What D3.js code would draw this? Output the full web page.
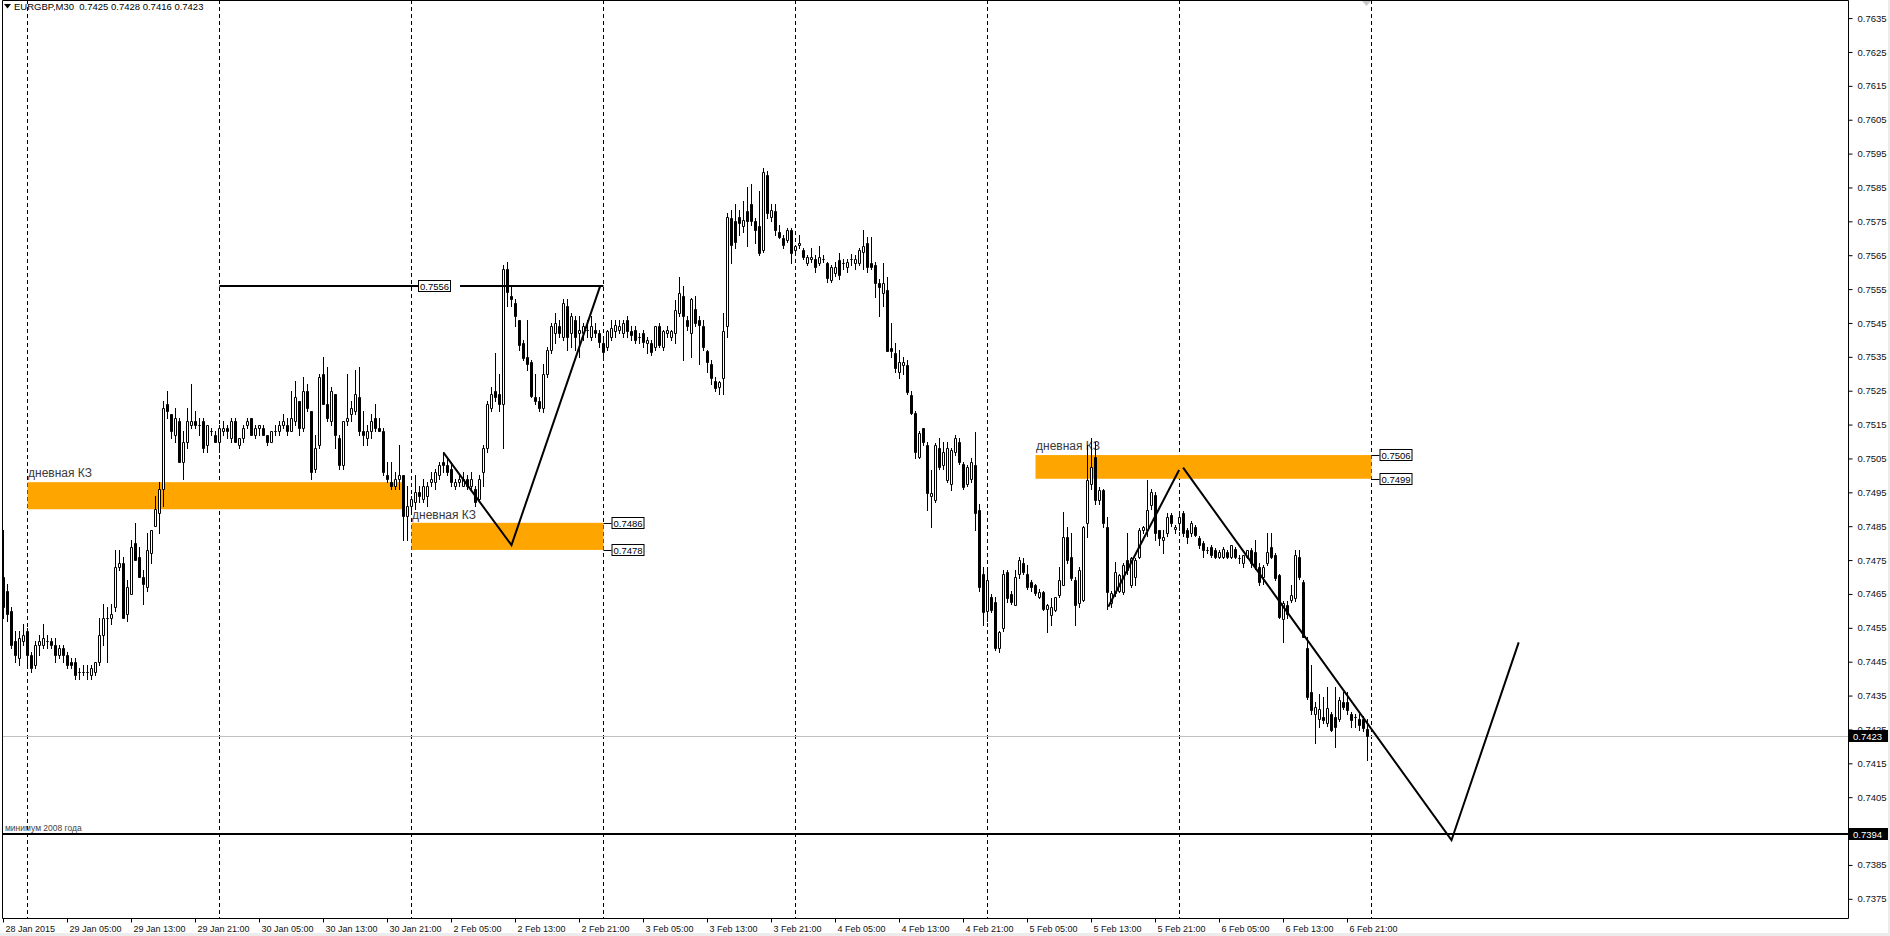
<!DOCTYPE html>
<html><head><meta charset="utf-8">
<script src="https://cdn.jsdelivr.net/npm/d3@7"></script>
<style>
html,body{margin:0;padding:0;background:#fff;}
svg{display:block;}
</style></head><body>
<svg id="chart" width="1890" height="936"></svg>
<script>
// ---------- DATA ----------
const symbolTitle = "EURGBP,M30  0.7425 0.7428 0.7416 0.7423";
const timeLabels = ["28 Jan 2015","29 Jan 05:00","29 Jan 13:00","29 Jan 21:00","30 Jan 05:00","30 Jan 13:00","30 Jan 21:00","2 Feb 05:00","2 Feb 13:00","2 Feb 21:00","3 Feb 05:00","3 Feb 13:00","3 Feb 21:00","4 Feb 05:00","4 Feb 13:00","4 Feb 21:00","5 Feb 05:00","5 Feb 13:00","5 Feb 21:00","6 Feb 05:00","6 Feb 13:00","6 Feb 21:00"];
const timeTickBars = [0,16,32,48,64,80,96,112,128,144,160,176,192,208,224,240,256,272,288,304,320,336];
const separatorBars = [6,54,102,150,198,246,294,342];
const priceTicks = [0.7375,0.7385,0.7395,0.7405,0.7415,0.7425,0.7435,0.7445,0.7455,0.7465,0.7475,0.7485,0.7495,0.7505,0.7515,0.7525,0.7535,0.7545,0.7555,0.7565,0.7575,0.7585,0.7595,0.7605,0.7615,0.7625,0.7635];
const hiddenTickLabels = [0.7395]; // covered by the 0.7394 price box

// M30 candles [open, high, low, close] in pips (price x 10000)
const jan28 = [[7470,7484,7458,7461],[7466,7468,7457,7459],[7460,7461,7449,7450],[7451,7454,7445,7447],[7446,7454,7444,7452],[7451,7456,7450,7453]];
const jan29 = [[7454,7455,7444,7447],[7447,7448,7442,7443],[7444,7451,7443,7450],[7450,7453,7447,7451],[7450,7456,7449,7452],[7451,7453,7449,7451],[7451,7452,7449,7450],[7450,7452,7445,7447],[7447,7450,7446,7449],[7449,7450,7445,7447],[7447,7448,7443,7444],[7445,7446,7443,7444],[7445,7446,7440,7441],[7442,7443,7440,7442],[7442,7444,7441,7442],[7442,7444,7440,7442],[7441,7444,7440,7443],[7442,7445,7441,7445],[7445,7458,7444,7453],[7453,7462,7450,7458],[7458,7461,7445,7458],[7458,7462,7456,7459],[7461,7478,7460,7473],[7473,7478,7472,7474],[7474,7476,7458,7458],[7459,7469,7457,7467],[7465,7481,7465,7479],[7480,7486,7475,7475],[7476,7479,7470,7470],[7470,7472,7462,7468],[7467,7483,7466,7478],[7477,7484,7474,7484],[7485,7494,7485,7490],[7489,7498,7483,7496],[7496,7522,7491,7520],[7521,7525,7517,7519],[7518,7518,7511,7513],[7512,7520,7510,7517],[7516,7517,7504,7504],[7504,7513,7499,7510],[7510,7520,7508,7516],[7515,7527,7514,7516],[7516,7519,7514,7515],[7515,7517,7512,7515],[7516,7517,7507,7508],[7509,7515,7507,7515],[7513,7514,7512,7513],[7512,7513,7510,7510]];
const jan30 = [[7510,7515,7507,7514],[7513,7516,7512,7514],[7514,7515,7511,7513],[7511,7517,7510,7516],[7516,7517,7510,7510],[7509,7511,7508,7511],[7511,7515,7510,7514],[7515,7517,7514,7516],[7517,7517,7512,7512],[7512,7515,7511,7514],[7514,7515,7512,7515],[7514,7515,7512,7512],[7512,7512,7509,7510],[7510,7513,7510,7513],[7513,7515,7512,7513],[7513,7516,7512,7515],[7515,7518,7514,7516],[7515,7517,7512,7513],[7513,7525,7513,7517],[7516,7528,7515,7523],[7522,7522,7512,7514],[7514,7529,7513,7525],[7525,7527,7519,7520],[7519,7519,7499,7501],[7502,7512,7501,7508],[7509,7530,7508,7529],[7530,7535,7521,7521],[7521,7532,7516,7517],[7516,7526,7515,7525],[7524,7524,7508,7512],[7511,7512,7502,7503],[7503,7516,7502,7516],[7516,7530,7515,7517],[7518,7522,7516,7520],[7519,7531,7518,7524],[7523,7532,7512,7513],[7513,7519,7509,7512],[7511,7515,7509,7513],[7513,7518,7511,7516],[7517,7521,7513,7514],[7514,7517,7513,7513],[7513,7514,7500,7501],[7500,7504,7498,7499],[7498,7504,7496,7497],[7497,7501,7496,7499],[7499,7509,7496,7500],[7500,7500,7481,7488],[7488,7497,7481,7491]];
const feb2 = [[7491,7494,7489,7493],[7492,7500,7490,7495],[7495,7497,7492,7494],[7493,7499,7492,7497],[7494,7498,7491,7497],[7498,7501,7497,7499],[7498,7502,7496,7501],[7500,7504,7499,7503],[7504,7507,7501,7503],[7503,7505,7500,7501],[7502,7504,7497,7498],[7497,7499,7496,7498],[7498,7500,7497,7499],[7497,7501,7497,7499],[7499,7500,7496,7497],[7497,7501,7496,7499],[7496,7497,7491,7492],[7493,7500,7492,7499],[7501,7509,7497,7508],[7508,7522,7507,7521],[7520,7526,7519,7524],[7525,7536,7522,7523],[7524,7530,7519,7521],[7521,7562,7508,7561],[7561,7563,7550,7554],[7553,7556,7550,7552],[7551,7552,7544,7547],[7546,7546,7537,7538.5],[7539,7540,7534,7534.6],[7535,7546,7531,7533],[7533.6,7534,7523,7523.3],[7523,7530,7521,7522],[7522,7523,7519,7520],[7519.8,7533,7518.8,7530],[7530,7538,7529,7537],[7537,7545,7536,7544],[7542,7548,7539,7545],[7544,7546,7541,7542],[7541,7552,7540,7551],[7550,7552,7537,7541],[7542,7548,7538,7547],[7546,7547,7537,7541],[7542,7547,7535,7543],[7542,7545,7540,7544],[7543,7546,7541,7543],[7541,7547,7540,7544],[7543,7545,7541,7542],[7542,7543,7538,7539.5]];
const feb3 = [[7539,7540,7535,7536.5],[7538,7543,7537,7542.5],[7541,7546,7540,7543.5],[7542.5,7546,7541,7544.4],[7543,7546,7542,7544],[7542,7546,7541,7545],[7546,7547,7541,7542.5],[7542.5,7544,7540,7541.5],[7543,7544,7539,7540],[7541,7542,7539,7541],[7542,7543,7538,7539.5],[7539,7541,7536,7540],[7539,7540,7535.5,7536.5],[7538,7544,7537,7544],[7544,7545,7538,7538.5],[7538,7543,7537,7542.5],[7542,7544,7541,7542.9],[7541,7543,7540,7542.5],[7542,7551.8,7539,7548.8],[7548,7558.7,7547,7553.8],[7553,7556,7534,7547],[7546,7547,7543,7544],[7542,7552.3,7535,7552],[7549,7553,7544,7545],[7546,7547,7533,7544.4],[7544,7546,7537,7538],[7536.6,7537,7530.6,7533.6],[7533,7534,7527,7528.7],[7528,7529,7525,7525.7],[7526,7528,7524,7527.5],[7528.7,7547.9,7524,7542.5],[7544,7577.4,7541,7576.4],[7576,7578.4,7562.6,7568],[7575,7580,7567,7569],[7576.4,7578.4,7571,7574.5],[7573.5,7581,7572,7575.4],[7578,7585,7567.6,7575],[7580,7586,7574,7575],[7575,7576,7568.6,7572.5],[7573.5,7584,7565,7565.6],[7566.6,7590.7,7566,7589.7],[7588.7,7590,7576,7577.4],[7576.4,7580,7575,7578.4],[7578,7580,7571,7572.5],[7572,7574,7570,7570.5],[7570,7571,7567,7568],[7569.5,7573,7569,7572.5],[7572.5,7573,7562.6,7565.6]];
const feb4 = [[7566.6,7568,7565,7567.6],[7568,7571,7567,7568.6],[7566.6,7567,7564,7564.6],[7562.6,7565,7562,7564.6],[7564,7567,7563,7564.6],[7564,7565,7560,7561.6],[7562.6,7567.6,7562,7564.6],[7564,7565,7563,7564],[7562.6,7563,7557,7558.2],[7557.7,7562,7557,7561.6],[7559.7,7563,7559,7561.6],[7563.6,7565.6,7558,7559.2],[7562.6,7564,7561,7562.6],[7561.6,7564,7560,7563.1],[7564,7565.5,7562,7564],[7562.6,7565,7561,7564],[7562.6,7567,7562,7566.6],[7566,7572.5,7561,7567.6],[7568.6,7570.5,7560,7561.6],[7562.6,7570.5,7561,7561.6],[7562,7563,7552.8,7556.7],[7556.7,7558,7547,7555.7],[7553.8,7562.6,7550,7556.7],[7554.8,7558.7,7536.6,7536.6],[7537.6,7545,7535,7536.6],[7536,7539,7530.6,7531.6],[7530.6,7537,7528.7,7533.6],[7532.6,7535,7530,7533.6],[7532.6,7534,7524,7524.7],[7523.7,7525,7518,7518.5],[7518.3,7519,7505,7507],[7505.5,7513,7505,7512.4],[7513.9,7514,7509,7509.9],[7509,7510,7489.8,7494.7],[7493.8,7501.6,7484.8,7494.7],[7492.7,7509.5,7492,7509],[7508,7510.9,7502,7502.5],[7503,7510,7502,7507],[7498.6,7510,7498,7508],[7497.6,7508,7495.7,7507.5],[7507,7512,7506,7511],[7510,7511,7503.5,7504],[7503.5,7504,7496,7496.6],[7497.6,7503,7497,7502.5],[7499,7505,7498,7504],[7503,7512.9,7483.8,7488.8],[7489.8,7491.7,7466,7467.1],[7471,7473,7455.8,7459.7]];
const feb5 = [[7460,7471.9,7457,7469],[7464,7465,7459.7,7460.2],[7462.7,7464,7448.4,7448.9],[7449,7454,7447.9,7453.8],[7454.8,7472,7454,7471],[7471.5,7472,7462.7,7463.7],[7465,7466,7462,7462.7],[7461.7,7472,7461.7,7470],[7471,7476,7469.6,7475],[7474,7475.5,7471,7471.5],[7471,7473.5,7466.6,7467.1],[7468.5,7469,7466,7467.1],[7467.6,7468,7464.7,7465.2],[7464.2,7466.5,7463.7,7465.7],[7465.7,7466,7460.2,7460.7],[7460.7,7462,7453.8,7461.7],[7458.7,7463.7,7455.8,7461.2],[7460.2,7464.2,7460,7464.2],[7464.6,7473,7464,7469],[7467.6,7489.3,7467.5,7481.9],[7481.9,7484.8,7474,7475],[7476,7482.9,7469,7469.6],[7469,7470,7455.8,7461.7],[7462.2,7473,7461,7472],[7463.2,7485,7463,7484.8],[7485.8,7509,7481.9,7498.6],[7497.6,7511,7496,7502.5],[7505.5,7510,7491.7,7492.7],[7492.7,7496.5,7491.7,7495.7],[7495.7,7496,7484.8,7485.8],[7484.8,7487.8,7460.7,7465.6],[7462.2,7466,7461.2,7465.2],[7465.2,7474.5,7464.5,7471.5],[7466,7471,7465.5,7470.5],[7465.6,7474,7465,7473.5],[7475,7482.9,7471,7472],[7467.6,7476,7467,7475.5],[7470,7475.5,7467.6,7475],[7476,7484.5,7475.5,7483.9],[7483.9,7485,7483,7484.8],[7483.9,7498.6,7482,7489.7],[7491.2,7496,7490,7495.2],[7494.2,7495,7481,7482.9],[7483.9,7484,7479.5,7481.4],[7481,7483.9,7477,7481.9],[7482.9,7488.8,7482,7487.8],[7488.3,7489,7485,7485.8],[7484.3,7485.5,7483,7484.8]];
const feb6 = [[7485.8,7488.8,7484,7487.8],[7488.8,7489.5,7482,7482.9],[7483.9,7484.5,7479.9,7481.9],[7482.9,7486.5,7482,7485.8],[7484.8,7485.5,7482,7482.4],[7481.4,7482,7478.5,7479.4],[7480,7480.5,7476,7478],[7478,7479,7477,7478],[7478.9,7479.5,7476,7476.4],[7477.9,7478.5,7475.5,7476],[7476,7478,7475.5,7477.5],[7476,7479,7475.5,7478.4],[7477.4,7478,7475.5,7476],[7476,7479.4,7475.5,7479.4],[7478.4,7479,7475.5,7476],[7475.5,7476.5,7474,7475.5],[7474,7476.4,7473,7476.4],[7476,7478,7475.5,7478],[7478,7478.5,7473,7474],[7477.4,7480.9,7472.5,7473],[7473,7474,7467.6,7468.6],[7470,7473.5,7468,7473],[7474,7482.9,7473.5,7477.4],[7479,7482.9,7475.5,7476],[7476.4,7477,7469,7469.6],[7470.6,7471,7458,7458.2],[7457.7,7463,7450.9,7462.2],[7461.7,7463,7458,7459.2],[7463.2,7467.6,7462.5,7464.6],[7463.7,7477.9,7463,7476.4],[7476,7478,7469.5,7470],[7468.6,7469,7452.3,7452.3],[7449,7452.3,7434,7434.6],[7436,7444,7429.5,7430.7],[7429.7,7433,7420.9,7431.7],[7428,7435.6,7425.8,7431],[7428.7,7434.6,7427,7427.7],[7426.8,7437.6,7426,7431.2],[7429.7,7430,7424.5,7424.8],[7428.7,7437.6,7419.9,7425.8],[7428.2,7434.5,7427.5,7433.6],[7433.1,7436,7431,7431.7],[7433.1,7436,7429.7,7430.7],[7429.7,7430,7425.8,7427.7],[7428.7,7429.7,7425.8,7428.7],[7428.2,7429.7,7424.8,7426.3],[7428,7429,7424.5,7425.3],[7425,7428,7416,7423]];

// analysis objects
const zoneLabel = "дневная КЗ";
const zoneBars = [[6,100],[102,150],[258,342]];
const zonePrices = [[0.7498,0.7490],[0.7486,0.7478],[0.7506,0.7499]];
const zonePriceTags = [[],["0.7486","0.7478"],["0.7506","0.7499"]];
const resistanceLevel = 0.7556;
const resistanceBars = [54,150];
const resistanceTag = "0.7556";
const min2008Level = 0.7394;
const min2008Label = "минимум 2008 года";
const lastPrice = 0.7423;
const zigzag1 = [[110,0.75067],[127,0.74794],[149.2,0.7556]];
const zigzag2 = [[276.2,0.74612],[293.9,0.75016]];
const zigzag3 = [[294.9,0.75023],[362,0.73923],[378.8,0.74507]];

// ---------- DRAW ----------
const FONT = "'Liberation Sans', Arial, sans-serif";
const svg = d3.select('#chart');
const W = 1890, H = 936;
const plotL = 2, plotR = 1848, plotT = 0, plotB = 918;

svg.append('rect').attr('width',W).attr('height',H).attr('fill','#fff');
svg.append('rect').attr('x',0).attr('y',933).attr('width',W).attr('height',3).attr('fill','#ececec');
svg.append('rect').attr('x',1888).attr('y',0).attr('width',2).attr('height',H).attr('fill','#ececec');

const x = d3.scaleLinear().domain([0,342]).range([3.5,1371.5]);
const y = d3.scaleLinear().domain([0.7375,0.7635]).range([898.8,18.1]);

svg.append('defs').append('clipPath').attr('id','clip')
  .append('rect').attr('x',plotL+1).attr('y',plotT+1).attr('width',plotR-plotL-1).attr('height',plotB-plotT-1);
const plot = svg.append('g').attr('clip-path','url(#clip)');

// period separators
plot.selectAll('line.sep').data(separatorBars).join('line').attr('class','sep')
  .attr('x1',d=>x(d)).attr('x2',d=>x(d)).attr('y1',plotT).attr('y2',plotB)
  .attr('stroke','#000').attr('stroke-width',1).attr('stroke-dasharray','4,3');

// zones
zoneBars.forEach((zb,k)=>{
  const zp = zonePrices[k];
  plot.append('rect')
    .attr('x',x(zb[0])).attr('width',x(zb[1])-x(zb[0]))
    .attr('y',y(zp[0])).attr('height',y(zp[1])-y(zp[0]))
    .attr('fill','#FFA500');
});

// zone labels
const zoneLabelY = [472.5, 514.5, 446];
zoneBars.forEach((zb,k)=>{
  plot.append('text').attr('x',x(zb[0])+0.5).attr('y',zoneLabelY[k]+4)
    .attr('font-family',FONT).attr('font-size',12).attr('fill','#3a3a3a').text(zoneLabel);
});

// current price line
plot.append('line').attr('x1',plotL).attr('x2',plotR).attr('y1',Math.round(y(lastPrice))+0.5).attr('y2',Math.round(y(lastPrice))+0.5)
  .attr('stroke','#c0c0c0').attr('stroke-width',1);

// min 2008 line
plot.append('line').attr('x1',plotL).attr('x2',plotR).attr('y1',Math.round(y(min2008Level))).attr('y2',Math.round(y(min2008Level)))
  .attr('stroke','#000').attr('stroke-width',2);
plot.append('text').attr('x',5).attr('y',Math.round(y(min2008Level))-3)
  .attr('font-family',FONT).attr('font-size',8.5).attr('fill','#444').text(min2008Label);

// candles
const bars = [].concat(jan28,jan29,jan30,feb2,feb3,feb4,feb5,feb6)
  .map((d,i)=>({i, o:d[0]/1e4, h:d[1]/1e4, l:d[2]/1e4, c:d[3]/1e4}));
const cg = plot.append('g');
cg.selectAll('line.wick').data(bars).join('line').attr('class','wick')
  .attr('x1',d=>x(d.i)).attr('x2',d=>x(d.i))
  .attr('y1',d=>Math.round(y(d.h))).attr('y2',d=>Math.round(y(d.l))+1)
  .attr('stroke','#000').attr('stroke-width',1);
cg.selectAll('path.body').data(bars).join('path').attr('class','body')
  .attr('d',d=>{
    const x0 = x(d.i)-1;
    const yt = Math.round(y(Math.max(d.o,d.c)))+0.5;
    const yb = Math.round(y(Math.min(d.o,d.c)))+0.5;
    return `M${x0},${yt}H${x0+2}V${yb}H${x0}Z`;
  })
  .attr('fill',d=>d.c>=d.o?'#fff':'#000').attr('stroke','#000').attr('stroke-width',1);

// resistance line with tag
const ry = Math.round(y(resistanceLevel));
const tagL = 418, tagR = 453;
plot.append('line').attr('x1',x(resistanceBars[0])).attr('x2',tagL).attr('y1',ry).attr('y2',ry).attr('stroke','#000').attr('stroke-width',2);
plot.append('line').attr('x1',tagR+7).attr('x2',x(resistanceBars[1])).attr('y1',ry).attr('y2',ry).attr('stroke','#000').attr('stroke-width',2);

function tagBox(parent, xl, yc, txt, bg, fg){
  const g = parent.append('g');
  const r = g.append('rect').attr('x',xl+0.5).attr('y',Math.round(yc)-5.5).attr('height',11)
    .attr('fill',bg).attr('stroke','#000').attr('stroke-width',1);
  const t = g.append('text').attr('x',xl+2).attr('y',Math.round(yc)+3.5)
    .attr('font-family',FONT).attr('font-size',9.5).attr('fill',fg).text(txt);
  const w = t.node().getComputedTextLength();
  r.attr('width',Math.round(w)+3);
  return g;
}
tagBox(plot, tagL, ry, resistanceTag, '#fff', '#000');

// zone price tags
zoneBars.forEach((zb,k)=>{
  zonePriceTags[k].forEach((tg,j)=>{
    const yy = Math.round(y(zonePrices[k][j]));
    const xr = x(zb[1]);
    svg.append('line').attr('x1',xr).attr('x2',xr+8).attr('y1',yy+0.5).attr('y2',yy+0.5).attr('stroke','#000');
    tagBox(svg, xr+8, yy, tg, '#fff', '#000');
  });
});

// zigzag lines
const zl = d3.line().x(d=>x(d[0])).y(d=>y(d[1]));
[zigzag1, zigzag2, zigzag3].forEach(z=>{
  plot.append('path').attr('d',zl(z)).attr('fill','none').attr('stroke','#000').attr('stroke-width',2).attr('stroke-linejoin','miter');
});

// frame
svg.append('path').attr('d',`M${plotL+0.5},${plotT+0.5}H${plotR+0.5}V${plotB+0.5}H${plotL+0.5}Z`)
  .attr('fill','none').attr('stroke','#000').attr('stroke-width',1);

// price axis
const yAxis = d3.axisRight(y).tickValues(priceTicks).tickSize(4).tickPadding(5)
  .tickFormat(d=>hiddenTickLabels.includes(d)?'':d3.format('.4f')(d));
const ya = svg.append('g').attr('transform',`translate(${plotR+0.5},0)`).call(yAxis);
ya.select('.domain').remove();
ya.selectAll('text').attr('font-family',FONT).attr('font-size',9.5).attr('fill','#111');

// price boxes on axis
[[lastPrice,'0.7423'],[min2008Level,'0.7394']].forEach(p=>{
  const yy = Math.round(y(p[0]));
  const g = svg.append('g');
  g.append('rect').attr('x',plotR+1).attr('y',yy-6).attr('width',39).attr('height',12).attr('fill','#000');
  g.append('text').attr('x',plotR+5).attr('y',yy+3.5).attr('font-family',FONT).attr('font-size',9.5).attr('fill','#fff').text(p[1]);
});

// time axis
const xAxis = d3.axisBottom(x).tickValues(timeTickBars).tickSize(4).tickPadding(3).offset(0)
  .tickFormat((d,i)=>timeLabels[i]);
const xa = svg.append('g').attr('transform',`translate(0,${plotB+0.5})`).call(xAxis);
xa.select('.domain').remove();
xa.selectAll('text').attr('text-anchor','start').attr('dx',2)
  .attr('font-family',FONT).attr('font-size',9).attr('fill','#111');

// title
svg.append('path').attr('d','M4,4H11L7.5,8.5Z').attr('fill','#000');
svg.append('text').attr('x',14).attr('y',10).attr('font-family',FONT).attr('font-size',9.5).attr('fill','#000')
  .style('white-space','pre').text(symbolTitle);

// chart shift marker
svg.append('path').attr('d','M1362,1H1371L1366.5,6Z').attr('fill','#c8c8c8');
</script>
</body></html>
